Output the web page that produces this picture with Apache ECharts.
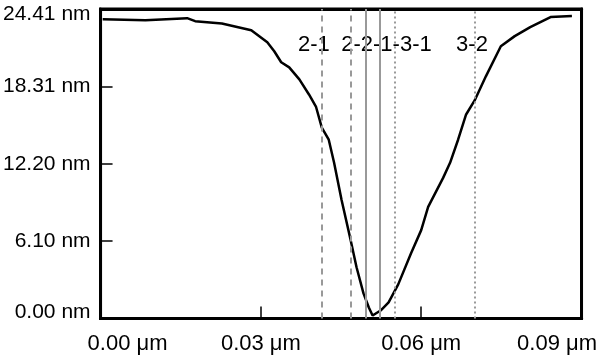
<!DOCTYPE html>
<html>
<head>
<meta charset="utf-8">
<script src="https://cdn.jsdelivr.net/npm/echarts@6/dist/echarts.min.js"></script>
<style>html,body{margin:0;padding:0;background:#fff}#c{width:600px;height:363px}</style>
</head>
<body>
<div id="c"></div>
<script>
// Profile data: x in µm, height in nm
var profileX = [0.0004,0.0084,0.0162,0.0177,0.0227,0.0282,0.0312,0.0325,0.0338,0.0353,0.0372,0.0390,0.0403,0.0414,0.0427,0.0437,0.0451,0.0468,0.0479,0.0492,0.0502,0.0509,0.0524,0.0539,0.0557,0.0581,0.0600,0.0613,0.0641,0.0654,0.0669,0.0684,0.0700,0.0721,0.0749,0.0775,0.0804,0.0842,0.0882];
var profileY = [23.61,23.53,23.69,23.45,23.26,22.74,21.79,21.08,20.21,19.81,18.86,17.67,16.72,15.06,14.10,12.28,9.35,6.18,4.04,1.98,0.87,0.24,0.63,1.27,2.69,5.15,6.97,8.80,11.09,12.28,14.10,16.09,17.20,19.10,21.47,22.27,22.98,23.77,23.85];

// Vertical marker lines
var markerX = [0.0414,0.0468,0.0496,0.0522,0.0550,0.0700];
var markerStyle = ['dashed','dashed','solid','solid','dotted','dotted'];

// Marker labels (anchor in data coords)
var markerLabels = ['2-1','2-2-1-3-1','3-2'];
var markerLabelX = [0.0399,0.0535,0.0695];
var markerLabelY = [21.6,21.6,21.6];

// Axis ticks
var xTickLabels = ['0.00 μm','0.03 μm','0.06 μm','0.09 μm'];
var yTickLabels = ['0.00 nm','6.10 nm','12.20 nm','18.31 nm','24.41 nm'];
var xMin = 0, xMax = 0.09, xInterval = 0.03;
var yMin = 0, yMax = 24.41, yInterval = 6.1025;

var chart = echarts.init(document.getElementById('c'));
var font = 'Liberation Sans, Arial, Helvetica, sans-serif';

var curve = profileX.map(function(x,i){return [x, profileY[i]];});
var dashMap = {dashed:[6,5], solid:'solid', dotted:[2,3]};
var mlData = markerX.map(function(x,i){
  return {xAxis:x, lineStyle:{type:dashMap[markerStyle[i]], color:'#999', width:2, opacity:1}};
});
var labelData = markerLabels.map(function(t,i){return {value:[markerLabelX[i], markerLabelY[i]], name:t};});

var frameAxis = {
  axisLine:{show:true, onZero:false, lineStyle:{color:'#000', width:3}},
  axisTick:{show:false}, axisLabel:{show:false}, splitLine:{show:false}
};

chart.setOption({
  animation:false,
  grid:{left:100, right:17, top:9, bottom:44.5, show:true, borderColor:'#000', borderWidth:3},
  xAxis:[{
    type:'value', min:xMin, max:xMax, interval:xInterval,
    splitLine:{show:false},
    axisLine:{show:true, onZero:false, lineStyle:{color:'#000', width:3}},
    axisTick:{show:true, inside:true, length:12, lineStyle:{color:'#000', width:1.5}},
    axisLabel:{
      margin:14, color:'#000', fontFamily:font, fontSize:22,
      formatter:function(v){
        var i = Math.round((v - xMin)/xInterval);
        var t = xTickLabels[i];
        if (i === 0) return '{l|' + t + '}';
        if (i === xTickLabels.length-1) return '{r|' + t + '}';
        return '{m|' + t + '}';
      },
      rich:{
        l:{padding:[0,0,0,54], fontFamily:font, fontSize:22, color:'#000'},
        r:{padding:[0,49,0,0], fontFamily:font, fontSize:22, color:'#000'},
        m:{fontFamily:font, fontSize:22, color:'#000'}
      }
    }
  }, Object.assign({type:'value', position:'top', min:xMin, max:xMax}, frameAxis)],
  yAxis:[{
    type:'value', min:yMin, max:yMax, interval:yInterval,
    splitLine:{show:false},
    axisLine:{show:true, onZero:false, lineStyle:{color:'#000', width:3}},
    axisTick:{show:true, inside:true, length:12, lineStyle:{color:'#000', width:1.5}},
    axisLabel:{
      margin:10, color:'#000', fontFamily:font, fontSize:21,
      formatter:function(v){
        var i = Math.round((v - yMin)/yInterval);
        var t = yTickLabels[i];
        if (i === 0) return '{b|' + t + '}';
        if (i === yTickLabels.length-1) return '{t|' + t + '}';
        return '{m|' + t + '}';
      },
      rich:{
        t:{padding:[10,0,0,0], fontFamily:font, fontSize:21, color:'#000'},
        b:{padding:[0,0,12,0], fontFamily:font, fontSize:21, color:'#000'},
        m:{fontFamily:font, fontSize:21, color:'#000'}
      }
    }
  }, Object.assign({type:'value', position:'right', min:yMin, max:yMax}, frameAxis)],
  series:[
    {
      type:'line', data:[], z:1, silent:true,
      markLine:{symbol:'none', silent:true, precision:6, label:{show:false},
        lineStyle:{color:'#999', width:2, opacity:1},
        emphasis:{disabled:true}, data:mlData, animation:false}
    },
    {
      type:'line', data:curve, z:3, showSymbol:false, symbol:'none', smooth:false,
      lineStyle:{color:'#000', width:2.5}
    },
    {
      type:'scatter', data:labelData, z:4, symbolSize:0, silent:true,
      itemStyle:{opacity:1},
      label:{show:true, position:'inside', formatter:function(p){return p.name;}, color:'#000', opacity:1,
        fontFamily:font, fontSize:22, backgroundColor:'#fff', padding:[7,2,7,2], lineHeight:22}
    }
  ]
});
</script>
</body>
</html>
